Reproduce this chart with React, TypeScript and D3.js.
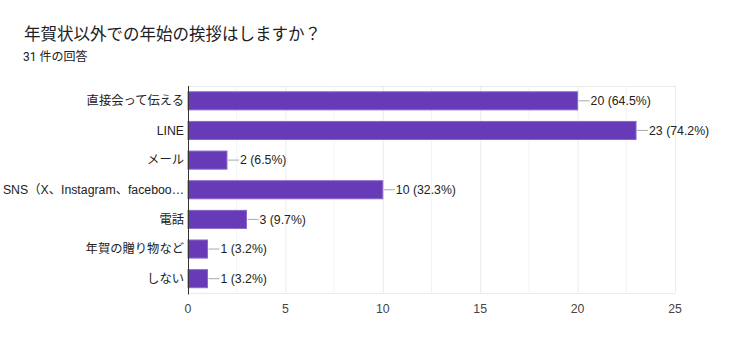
import React from "react";
import * as d3 from "d3";

const categories = [
  "直接会って伝える",
  "LINE",
  "メール",
  "SNS（X、Instagram、faceboo…",
  "電話",
  "年賀の贈り物など",
  "しない",
];
const counts = [20, 23, 2, 10, 3, 1, 1];
const percents = ["64.5%", "74.2%", "6.5%", "32.3%", "9.7%", "3.2%", "3.2%"];
const xTicks = [0, 5, 10, 15, 20, 25];
const minorTicks = [2.5, 7.5, 12.5, 17.5, 22.5];

const title = "年賀状以外での年始の挨拶はしますか？";
const subtitle = "31 件の回答";

const W = 750;
const H = 356;
const left = 188;
const right = 675;
const top = 86;
const bottom = 293.5;
const font = "'Liberation Sans', Arial, 'Noto Sans CJK JP', sans-serif";
const titleFont = "Roboto, 'Noto Sans CJK JP', sans-serif";

export default function App() {
  const x = d3.scaleLinear().domain([0, 25]).range([left, right]);
  const y = d3
    .scaleBand<string>()
    .domain(categories)
    .range([top, bottom])
    .paddingInner(0.39)
    .paddingOuter(0.195);

  return (
    <svg
      width={W}
      height={H}
      style={{ position: "absolute", left: 0, top: 0, background: "#fff" }}
      fontFamily={font}
    >
      <text x={24} y={40} fontSize={16.5} fill="#202124" fontFamily={titleFont}>
        {title}
      </text>
      <text x={23} y={61} fontSize={12} fill="#202124" fontFamily={titleFont}>
        {subtitle}
      </text>
      {/* frame */}
      <line x1={left} x2={right} y1={top + 0.5} y2={top + 0.5} stroke="#ebebeb" />
      <line x1={left} x2={right} y1={bottom} y2={bottom} stroke="#ebebeb" />
      {minorTicks.map((t) => (
        <line key={"m" + t} x1={x(t)} x2={x(t)} y1={top} y2={bottom} stroke="#f3f3f3" />
      ))}
      {xTicks.slice(1).map((t) => (
        <line key={"g" + t} x1={x(t) + 0.5} x2={x(t) + 0.5} y1={top} y2={bottom} stroke="#ebebeb" />
      ))}
      {xTicks.map((t) => (
        <text
          key={"t" + t}
          x={x(t)}
          y={313}
          fontSize={12.3}
          fill="#444"
          textAnchor="middle"
        >
          {t}
        </text>
      ))}
      {categories.map((c, i) => {
        const by = y(c)!;
        const bh = y.bandwidth();
        const cy = by + bh / 2;
        const xe = x(counts[i]);
        return (
          <g key={c}>
            <rect
              x={left}
              y={by}
              width={xe - left}
              height={bh}
              fill="#673ab7"
              stroke="#8a68c9"
              strokeWidth={1}
            />
            <text
              x={left - 4}
              y={cy}
              dy="0.35em"
              fontSize={12.3}
              fill="#222"
              textAnchor="end"
            >
              {c}
            </text>
            <line x1={xe + 1} x2={xe + 12} y1={cy} y2={cy} stroke="#aaa" strokeWidth={1} />
            <text x={xe + 13} y={cy} dy="0.35em" fontSize={12.3} fill="#222">
              {`${counts[i]} (${percents[i]})`}
            </text>
          </g>
        );
      })}
      <line x1={left + 0.5} x2={left + 0.5} y1={top} y2={bottom + 1} stroke="#333" strokeWidth={1} />
    </svg>
  );
}
